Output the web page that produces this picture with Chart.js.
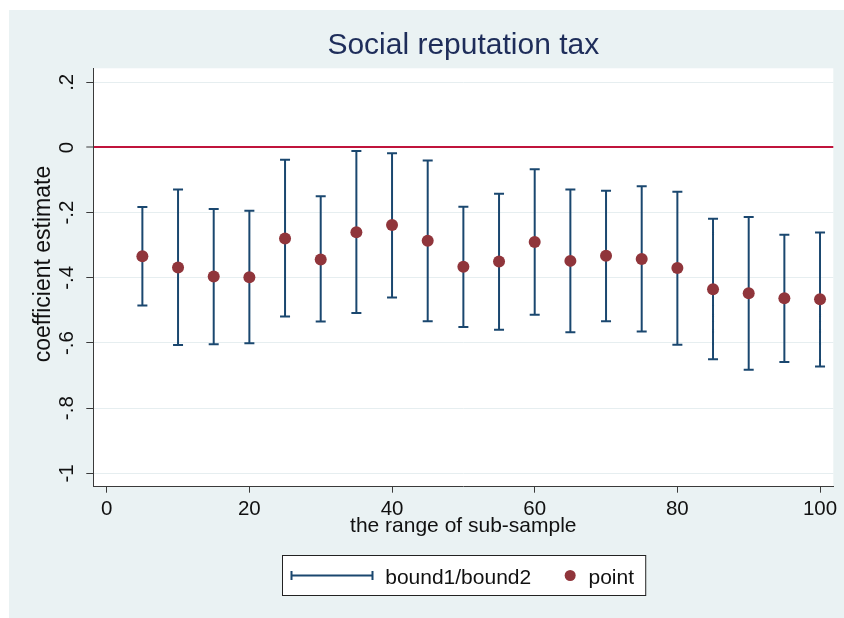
<!DOCTYPE html>
<html>
<head>
<meta charset="utf-8">
<script src="https://cdn.jsdelivr.net/npm/chart.js@4/dist/chart.umd.min.js"></script>
<style>
  html, body { margin: 0; padding: 0; background: #ffffff; }
  #wrap { width: 844px; height: 618px; }
</style>
</head>
<body>
<div id="wrap"><canvas id="c" width="844" height="618"></canvas></div>
<script>
// ---- data ----
const xValues = [5, 10, 15, 20, 25, 30, 35, 40, 45, 50, 55, 60, 65, 70, 75, 80, 85, 90, 95, 100];
const pointValues = [-0.334, -0.368, -0.396, -0.398, -0.279, -0.344, -0.260, -0.238, -0.286, -0.366,
                     -0.350, -0.290, -0.348, -0.332, -0.342, -0.370, -0.435, -0.447, -0.463, -0.466];
const bound1 = [-0.183, -0.129, -0.189, -0.194, -0.038, -0.150, -0.011, -0.018, -0.040, -0.182,
                -0.142, -0.067, -0.129, -0.133, -0.119, -0.136, -0.219, -0.213, -0.268, -0.261];
const bound2 = [-0.485, -0.606, -0.604, -0.601, -0.519, -0.534, -0.508, -0.460, -0.533, -0.551,
                -0.559, -0.513, -0.567, -0.533, -0.565, -0.605, -0.650, -0.682, -0.658, -0.672];
const xTickValues = [0, 20, 40, 60, 80, 100];
const yTickValues = [-1, -0.8, -0.6, -0.4, -0.2, 0, 0.2];
const yTickLabels = ['-1', '-.8', '-.6', '-.4', '-.2', '0', '.2'];
const legendLabels = ['bound1/bound2', 'point'];
const chartTitle = 'Social reputation tax';
const xTitle = 'the range of sub-sample';
const yTitle = 'coefficient estimate';

// ---- styles ----
const FONT = '"Liberation Sans", Arial, Helvetica, sans-serif';
const NAVY = '#1a476f';
const MAROON = '#90353b';
const ZERO_RED = '#c0143c';
const BG = '#eaf2f3';
const GRID = '#e6eef0';
const AXIS = '#3a3a3a';

const errorData = xValues.flatMap((x, i) => [
  { x: x, y: bound2[i] },
  { x: x, y: bound1[i] },
  { x: x, y: null }
]);
const pointData = xValues.map((x, i) => ({ x: x, y: pointValues[i] }));

const bgPlugin = {
  id: 'stataBackground',
  beforeDraw(chart) {
    const { ctx, width, height, chartArea: ca } = chart;
    ctx.save();
    ctx.fillStyle = '#ffffff';
    ctx.fillRect(0, 0, width, height);
    ctx.fillStyle = BG;
    ctx.fillRect(9, 10, width - 9, height - 10);
    ctx.fillStyle = '#ffffff';
    ctx.fillRect(ca.left, ca.top, ca.right - ca.left, ca.bottom - ca.top);
    ctx.restore();
  }
};

// y-axis title, placed as in the reference (slightly above the axis centre)
const yTitlePlugin = {
  id: 'stataYTitle',
  afterDraw(chart) {
    const ctx = chart.ctx;
    const ca = chart.chartArea;
    ctx.save();
    ctx.font = '23px ' + FONT;
    ctx.fillStyle = '#111111';
    ctx.textAlign = 'center';
    ctx.textBaseline = 'middle';
    ctx.translate(ca.left - 49.6, (ca.top + ca.bottom) / 2 - 13.5);
    ctx.rotate(-Math.PI / 2);
    ctx.fillText(yTitle, 0, 0);
    ctx.restore();
  }
};

const legendPlugin = {
  id: 'stataLegend',
  afterDraw(chart) {
    const ctx = chart.ctx;
    const ca = chart.chartArea;
    ctx.save();
    ctx.font = '21px ' + FONT;
    const w1 = ctx.measureText(legendLabels[0]).width;
    const w2 = ctx.measureText(legendLabels[1]).width;
    const padL = 9, symW = 81, gap1 = 12.7, gap2 = 39, gap3 = 18.3, padR = 11.7;
    const total = padL + symW + gap1 + w1 + gap2 + gap3 + w2 + padR;
    const cx = (ca.left + ca.right) / 2;
    const left = Math.round(cx - total / 2) + 0.5;
    const top = Math.round(chart.scales.x.bottom + 16.0) + 0.5;
    const h = 40;
    ctx.fillStyle = '#ffffff';
    ctx.fillRect(left, top, total, h);
    ctx.strokeStyle = '#222222';
    ctx.lineWidth = 1;
    ctx.strokeRect(left, top, total, h);
    const midY = top + 20;
    // error-bar symbol
    const sx0 = left + padL, sx1 = sx0 + symW;
    ctx.strokeStyle = NAVY;
    ctx.lineWidth = 2;
    ctx.beginPath();
    ctx.moveTo(sx0, midY); ctx.lineTo(sx1, midY);
    ctx.moveTo(sx0, midY - 4.5); ctx.lineTo(sx0, midY + 4.5);
    ctx.moveTo(sx1, midY - 4.5); ctx.lineTo(sx1, midY + 4.5);
    ctx.stroke();
    // text 1
    ctx.fillStyle = '#111111';
    ctx.textBaseline = 'alphabetic';
    ctx.textAlign = 'left';
    const tx1 = sx1 + gap1;
    ctx.fillText(legendLabels[0], tx1, top + 28.5);
    // dot
    const dx = tx1 + w1 + gap2;
    ctx.fillStyle = MAROON;
    ctx.beginPath();
    ctx.arc(dx, midY, 5.5, 0, Math.PI * 2);
    ctx.fill();
    // text 2
    ctx.fillStyle = '#111111';
    ctx.fillText(legendLabels[1], dx + gap3, top + 28.5);
    ctx.restore();
  }
};

new Chart(document.getElementById('c'), {
  type: 'scatter',
  data: {
    datasets: [
      {
        label: legendLabels[0],
        data: errorData,
        showLine: true,
        spanGaps: false,
        borderColor: NAVY,
        borderWidth: 2,
        pointStyle: 'line',
        pointRadius: 5,
        pointHoverRadius: 5,
        pointBorderColor: NAVY,
        pointBorderWidth: 2,
        pointBackgroundColor: NAVY,
        order: 2
      },
      {
        label: legendLabels[1],
        data: pointData,
        showLine: false,
        pointStyle: 'circle',
        pointRadius: 6,
        pointHoverRadius: 6,
        pointBackgroundColor: MAROON,
        pointBorderColor: MAROON,
        pointBorderWidth: 0,
        order: 1
      }
    ]
  },
  options: {
    responsive: false,
    devicePixelRatio: 1,
    animation: false,
    events: [],
    layout: { padding: { top: 0, left: 0, right: 10.7, bottom: 78.7 } },
    plugins: {
      legend: { display: false },
      tooltip: { enabled: false },
      title: {
        display: true,
        text: chartTitle,
        fullSize: false,
        color: '#1e2d5a',
        font: { family: FONT, size: 30, weight: 'normal' },
        padding: { top: 27.6, bottom: 4.7 }
      }
    },
    scales: {
      x: {
        type: 'linear',
        min: -1.88,
        max: 101.86,
        afterBuildTicks: (scale) => { scale.ticks = xTickValues.map(v => ({ value: v })); },
        afterFit: (scale) => { scale.height = 52.6; },
        grid: {
          display: true,
          drawOnChartArea: false,
          drawTicks: true,
          tickLength: 6,
          tickColor: AXIS,
          tickWidth: 1,
          color: 'rgba(0,0,0,0)'
        },
        border: { display: true, color: AXIS, width: 1 },
        ticks: {
          color: '#111111',
          font: { family: FONT, size: 20.5 },
          padding: 4.5,
          maxRotation: 0,
          minRotation: 0,
          autoSkip: false,
          callback: (v) => String(v)
        },
        title: {
          display: true,
          text: xTitle,
          color: '#111111',
          font: { family: FONT, size: 21 },
          padding: { top: 0, bottom: 0 }
        }
      },
      y: {
        type: 'linear',
        min: -1.041,
        max: 0.243,
        afterBuildTicks: (scale) => { scale.ticks = yTickValues.map(v => ({ value: v })); },
        afterFit: (scale) => { scale.width = 93.3; },
        grid: {
          display: true,
          drawOnChartArea: true,
          drawTicks: true,
          tickLength: 7,
          tickColor: AXIS,
          tickWidth: 1,
          color: (c) => (c.tick && Math.abs(c.tick.value) < 1e-9 ? ZERO_RED : GRID),
          lineWidth: (c) => (c.tick && Math.abs(c.tick.value) < 1e-9 ? 2 : 1)
        },
        border: { display: true, color: AXIS, width: 1 },
        ticks: {
          color: '#111111',
          font: { family: FONT, size: 20.5 },
          padding: 6.8,
          minRotation: 90,
          maxRotation: 90,
          crossAlign: 'center',
          autoSkip: false,
          callback: (v, i) => {
            const k = yTickValues.findIndex(t => Math.abs(t - v) < 1e-9);
            return k >= 0 ? yTickLabels[k] : '';
          }
        },
        title: { display: false, text: yTitle }
      }
    }
  },
  plugins: [bgPlugin, yTitlePlugin, legendPlugin]
});
</script>
</body>
</html>
